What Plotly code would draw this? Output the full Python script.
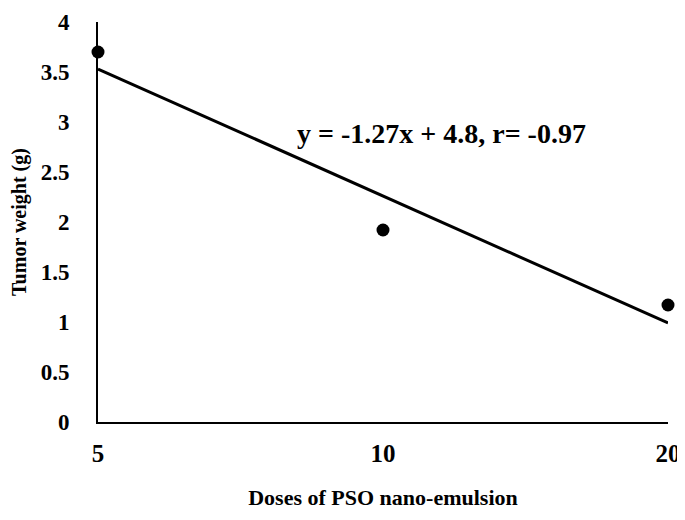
import plotly.graph_objects as go

# data
doses = ["5", "10", "20"]
dose_pos = [1, 2, 3]
tumor_weight = [3.7, 1.92, 1.17]

# trend line endpoints (y = -1.27x + 4.8)
fit_x = [1, 3]
fit_y = [3.53, 0.99]

font = "Liberation Serif, Times New Roman, serif"

fig = go.Figure()
fig.add_trace(go.Scatter(
    x=fit_x, y=fit_y, mode="lines",
    line=dict(color="black", width=3),
    cliponaxis=False, showlegend=False,
))
fig.add_trace(go.Scatter(
    x=dose_pos, y=tumor_weight, mode="markers",
    marker=dict(color="black", size=13),
    cliponaxis=False, showlegend=False,
))

fig.add_annotation(
    x=0.602, y=0.765, xref="paper", yref="paper",
    text="<b>y = -1.27x + 4.8, r= -0.97</b>",
    showarrow=False, font=dict(family=font, size=28, color="black"),
)

# page body adds an 8px offset, so the figure is sized/margined to compensate
fig.update_layout(
    width=677, height=512,
    margin=dict(l=90, r=17, t=14, b=98, autoexpand=False),
    plot_bgcolor="white", paper_bgcolor="white",
    font=dict(family=font, color="black", size=22),
    xaxis=dict(
        range=[1, 3], tickvals=dose_pos, ticktext=["<b>%s</b>" % d for d in doses],
        showgrid=False, zeroline=False, showline=True,
        linecolor="black", linewidth=2, ticks="", automargin=False,
        ticklabelstandoff=8, tickfont=dict(size=25),
        title=dict(text="<b>Doses of PSO nano-emulsion</b>", standoff=24,
                   font=dict(size=22)),
    ),
    yaxis=dict(
        range=[0, 4], dtick=0.5, showgrid=False, zeroline=False,
        showline=True, linecolor="black", linewidth=2, ticks="", automargin=False,
        ticklabelstandoff=22, tickprefix="<b>", ticksuffix="</b>",
        tickfont=dict(size=23), ticklabeloverflow="allow",
        title=dict(text="<b>Tumor weight (g)</b>", standoff=10,
                   font=dict(size=20)),
    ),
)

fig.write_html("out.html")
